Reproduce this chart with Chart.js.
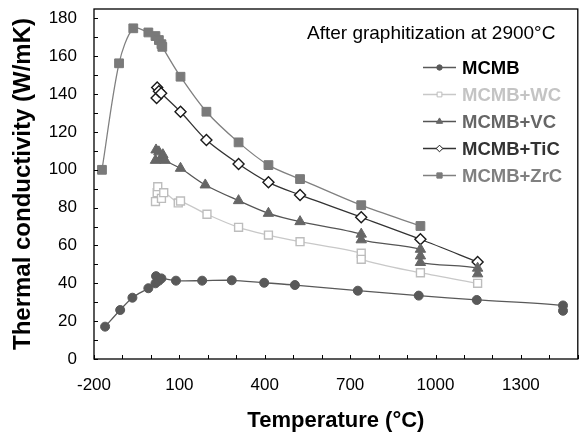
<!DOCTYPE html>
<html>
<head>
<meta charset="utf-8">
<script src="https://cdn.jsdelivr.net/npm/chart.js@4.4.1/dist/chart.umd.min.js"></script>
<style>
  html, body { margin: 0; padding: 0; background: #fff; }
</style>
</head>
<body>
<canvas id="chart" width="585" height="438"></canvas>
<script>
// thermal conductivity vs temperature
const seriesNames = ['MCMB', 'MCMB+WC', 'MCMB+VC', 'MCMB+TiC', 'MCMB+ZrC'];

const mcmbT = [-161, -108, -65, -9, 16, 18, 28, 37, 88, 180, 284, 398, 506, 727, 941, 1145, 1448, 1448];
const mcmbK = [17.1, 25.9, 32.4, 37.4, 40.0, 43.8, 41.4, 42.6, 41.4, 41.4, 41.6, 40.3, 39.1, 36.1, 33.5, 31.2, 28.3, 25.5];

const wcT = [16, 22, 24, 37, 45, 96, 104, 197, 308, 413, 524, 739, 739, 947, 1148];
const wcK = [83.2, 87.9, 91.1, 84.9, 87.9, 82.5, 83.5, 76.5, 69.6, 65.5, 62.0, 55.9, 52.7, 45.6, 40.0];

const vcT = [16, 18, 28, 35, 42, 50, 104, 191, 308, 413, 524, 739, 739, 947, 947, 947, 1148, 1148];
const vcK = [105.0, 110.5, 109.5, 106.0, 108.0, 105.0, 100.8, 92.0, 83.7, 77.0, 72.6, 66.0, 63.0, 58.0, 54.5, 51.0, 48.0, 45.0];

const ticT = [20, 22, 28, 36, 104, 195, 308, 413, 524, 739, 947, 1148];
const ticK = [138.0, 143.5, 141.5, 140.5, 130.7, 115.7, 103.1, 93.4, 86.7, 74.9, 63.3, 51.3];

const zrcT = [-172, -112, -62, -9, 16, 28, 37, 40, 104, 195, 308, 413, 524, 739, 947];
const zrcK = [100.0, 156.3, 174.8, 172.6, 170.7, 168.6, 166.4, 165.0, 149.2, 130.7, 114.5, 102.5, 95.1, 81.3, 70.3];

const xTickValues = [-200, 100, 400, 700, 1000, 1300];
const yTickValues = [0, 20, 40, 60, 80, 100, 120, 140, 160, 180];

const FONT = '"Liberation Sans", Arial, sans-serif';

const pts = (t, k) => t.map((x, i) => ({ x: x, y: k[i] }));

const styles = [
  { line: '#595959', fill: '#595959', stroke: '#595959', shape: 'circle', r: 4.5, text: '#000000' },
  { line: '#c8c8c8', fill: '#ffffff', stroke: '#bdbdbd', shape: 'rect', r: 5.6, text: '#c4c4c4' },
  { line: '#555555', fill: '#666666', stroke: '#666666', shape: 'triangle', r: 6, text: '#666666' },
  { line: '#333333', fill: '#ffffff', stroke: '#1a1a1a', shape: 'rectRot', r: 5.5, text: '#333333' },
  { line: '#808080', fill: '#7a7a7a', stroke: '#7a7a7a', shape: 'rect', r: 6.2, text: '#808080' }
];

const allData = [pts(mcmbT, mcmbK), pts(wcT, wcK), pts(vcT, vcK), pts(ticT, ticK), pts(zrcT, zrcK)];

// frame, inward ticks, note and legend
const decor = {
  id: 'decor',
  afterDraw(chart) {
    const ctx = chart.ctx;
    const a = chart.chartArea;
    const xs = chart.scales.x, ys = chart.scales.y;
    ctx.save();
    ctx.strokeStyle = '#000';
    ctx.lineWidth = 1;
    ctx.beginPath();
    for (let t = -200; t <= 1500; t += 100) {
      const px = Math.round(xs.getPixelForValue(t)) + 0.5;
      ctx.moveTo(px, a.bottom);
      ctx.lineTo(px, a.bottom - 4);
    }
    for (let v = 0; v <= 180; v += 10) {
      const py = Math.round(ys.getPixelForValue(v)) + 0.5;
      ctx.moveTo(a.left, py);
      ctx.lineTo(a.left + 4, py);
    }
    ctx.stroke();
    ctx.lineWidth = 1.3;
    ctx.strokeRect(a.left, a.top, a.right - a.left, a.bottom - a.top);

    ctx.fillStyle = '#000';
    ctx.font = '19px ' + FONT;
    ctx.textBaseline = 'alphabetic';
    ctx.textAlign = 'left';
    ctx.fillText('After graphitization at 2900°C', 307, 38.5);

    ctx.font = 'bold 18.5px ' + FONT;
    ctx.textBaseline = 'middle';
    seriesNames.forEach((name, i) => {
      const s = styles[i];
      const y = 67.5 + i * 27;
      ctx.strokeStyle = s.line;
      ctx.lineWidth = 1.3;
      ctx.beginPath();
      ctx.moveTo(423, y);
      ctx.lineTo(456, y);
      ctx.stroke();
      ctx.fillStyle = s.fill;
      ctx.strokeStyle = s.stroke;
      ctx.lineWidth = 1;
      Chart.helpers.drawPoint(ctx, { pointStyle: s.shape, radius: s.r * 0.6, rotation: 0, borderWidth: 1 }, 439.5, y);
      ctx.fillStyle = s.text;
      ctx.fillText(name, 462, y + 1);
    });
    ctx.restore();
  }
};

new Chart(document.getElementById('chart'), {
  type: 'line',
  data: {
    datasets: allData.map((d, i) => ({
      label: seriesNames[i],
      data: d,
      borderColor: styles[i].line,
      borderWidth: 1.3,
      backgroundColor: styles[i].fill,
      pointBackgroundColor: styles[i].fill,
      pointBorderColor: styles[i].stroke,
      pointBorderWidth: styles[i].fill === '#ffffff' ? 1.4 : 1,
      pointStyle: styles[i].shape,
      pointRadius: styles[i].r,
      tension: 0.3,
      fill: false
    }))
  },
  options: {
    responsive: false,
    animation: false,
    events: [],
    layout: { padding: { top: 9, right: 5, left: 0, bottom: 0 } },
    plugins: { legend: { display: false }, tooltip: { enabled: false } },
    scales: {
      x: {
        type: 'linear',
        min: -200,
        max: 1500,
        grid: { display: false, drawTicks: false },
        border: { display: false },
        afterBuildTicks: s => { s.ticks = xTickValues.map(v => ({ value: v })); },
        afterFit: s => { s.height = 79; s.paddingLeft = 0; s.paddingRight = 0; },
        ticks: { autoSkip: false, maxRotation: 0, padding: 16, color: '#000', font: { family: FONT, size: 17 }, callback: v => String(v) },
        title: { display: true, text: 'Temperature (°C)', color: '#000', padding: { top: 0, bottom: 4 }, font: { family: FONT, size: 22, weight: 'bold' } }
      },
      y: {
        min: 0,
        max: 185,
        grid: { display: false, drawTicks: false },
        border: { display: false },
        afterBuildTicks: s => { s.ticks = yTickValues.map(v => ({ value: v })); },
        afterFit: s => { s.width = 94; s.paddingTop = 0; s.paddingBottom = 0; },
        ticks: { padding: 17, color: '#000', font: { family: FONT, size: 17 }, callback: v => String(v) },
        title: { display: true, text: 'Thermal conductivity (W/mK)', color: '#000', padding: { top: 8.6, bottom: 0 }, font: { family: FONT, size: 24, weight: 'bold' } }
      }
    }
  },
  plugins: [decor]
});
</script>
</body>
</html>
